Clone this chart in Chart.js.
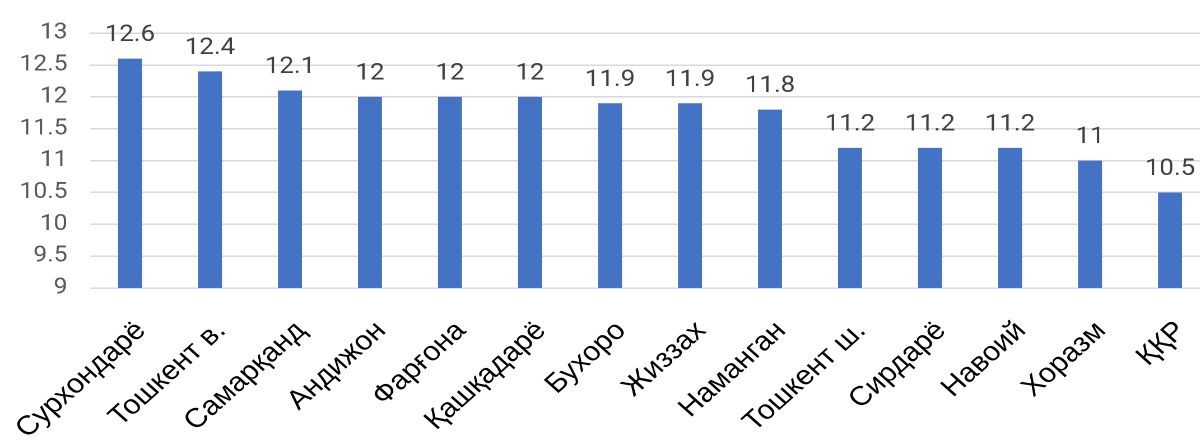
<!DOCTYPE html>
<html>
<head>
<meta charset="utf-8">
<script src="https://cdn.jsdelivr.net/npm/chart.js@4/dist/chart.umd.min.js"></script>
<style>
  html, body { margin: 0; padding: 0; background: #fff; overflow: hidden; width: 1200px; height: 445px; }
  /* the chart is laid out narrower and widened horizontally */
  #wrap { position: relative; width: 1080px; height: 445px; transform: scaleX(1.1204); transform-origin: 0 0; }
</style>
</head>
<body>
<div id="wrap"><canvas id="c"></canvas></div>
<script>
// Regions of Uzbekistan
const regions = [
  'Сурхондарё', 'Тошкент в.', 'Самарқанд', 'Андижон', 'Фарғона',
  'Қашқадарё', 'Бухоро', 'Жиззах', 'Наманган', 'Тошкент ш.',
  'Сирдарё', 'Навоий', 'Хоразм', 'ҚҚР'
];
const values = [12.6, 12.4, 12.1, 12, 12, 12, 11.9, 11.9, 11.8, 11.2, 11.2, 11.2, 11, 10.5];
const yMin = 9;
const yMax = 13;
const yStep = 0.5;

// Writes each bar's value above it
const valueLabels = {
  id: 'valueLabels',
  afterDatasetsDraw(chart) {
    const ctx = chart.ctx;
    const meta = chart.getDatasetMeta(0);
    ctx.save();
    ctx.font = '23px Roboto';
    ctx.fillStyle = '#404040';
    ctx.textAlign = 'center';
    ctx.textBaseline = 'alphabetic';
    meta.data.forEach((bar, i) => {
      ctx.fillText(String(values[i]), bar.x, bar.y - 17.5);
    });
    ctx.restore();
  }
};

new Chart(document.getElementById('c'), {
  type: 'bar',
  data: {
    labels: regions,
    datasets: [{
      data: values,
      backgroundColor: '#4472C4',
      barPercentage: 0.3,
      categoryPercentage: 1.0
    }]
  },
  options: {
    responsive: true,
    maintainAspectRatio: false,
    animation: false,
    devicePixelRatio: 2,
    events: [],
    layout: { padding: { top: 28, right: 0, left: 0, bottom: 0 } },
    plugins: { legend: { display: false }, tooltip: { enabled: false } },
    scales: {
      x: {
        grid: { display: false, drawTicks: false },
        border: { display: false },
        ticks: {
          font: { family: 'Liberation Sans', size: 27 },
          color: '#000',
          minRotation: 45,
          maxRotation: 45,
          padding: 27,
          labelOffset: 10,
          autoSkip: false
        },
        afterFit(scale) {
          scale.height = 157;
          scale.paddingLeft = 0;
          scale.paddingRight = 0;
        }
      },
      y: {
        min: yMin,
        max: yMax,
        ticks: {
          stepSize: yStep,
          font: { family: 'Roboto', size: 22 },
          color: '#595959',
          padding: 20,
          callback: (v) => String(v)
        },
        grid: { color: '#d9d9d9', lineWidth: 1.5, drawTicks: false },
        border: { display: false },
        afterFit(scale) { scale.width = 80.3; }
      }
    }
  },
  plugins: [valueLabels]
});
</script>
</body>
</html>
